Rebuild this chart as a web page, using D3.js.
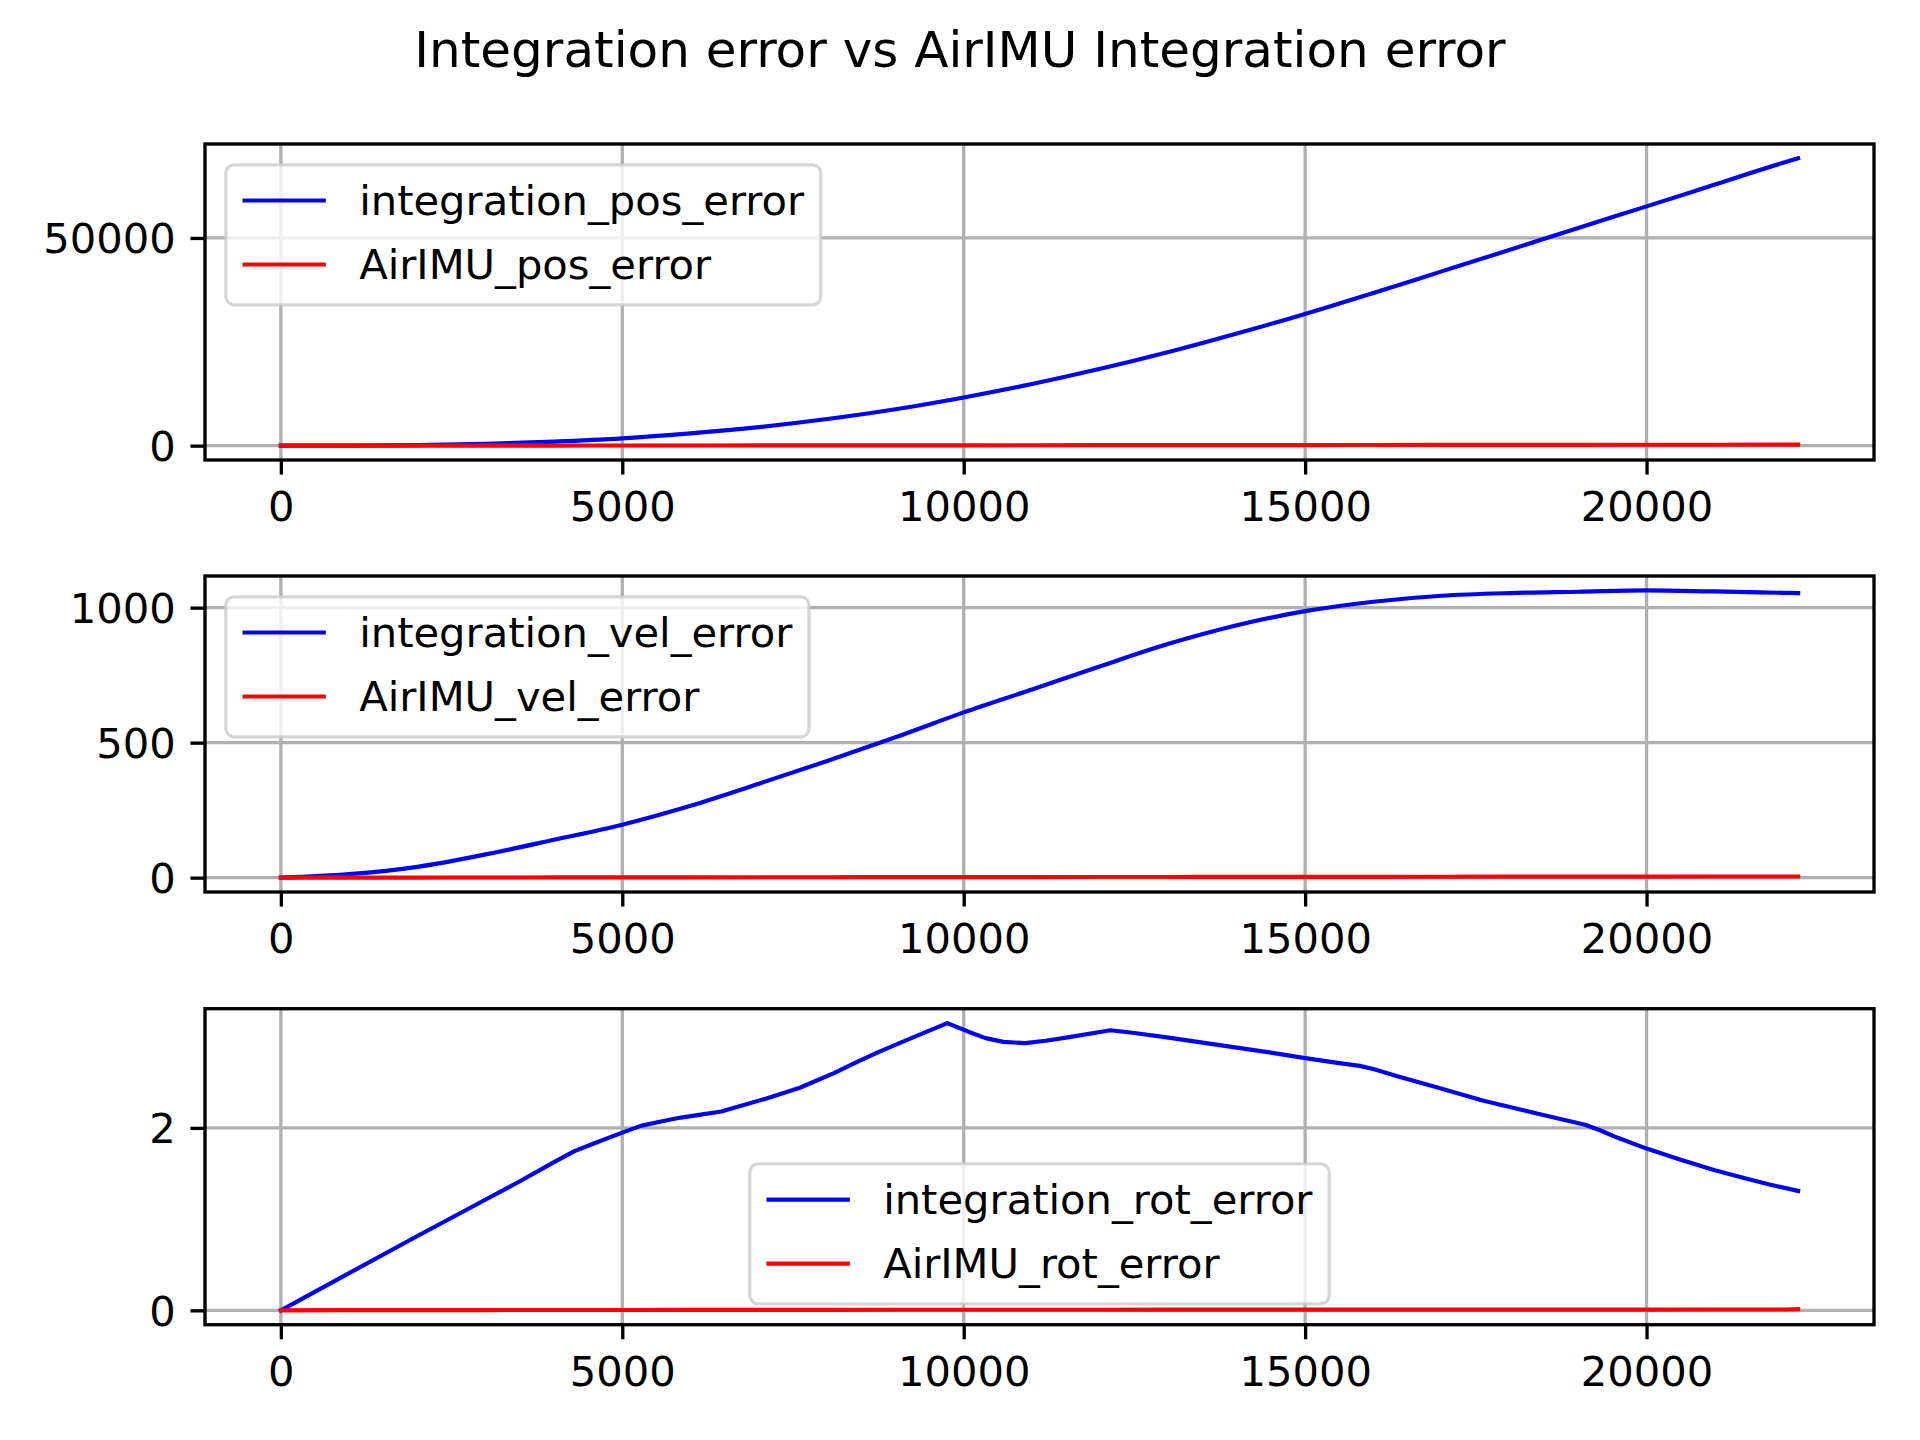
<!DOCTYPE html>
<html>
<head>
<meta charset="utf-8">
<script src="https://cdn.jsdelivr.net/npm/d3@7"></script>
<style>
  html, body { margin: 0; padding: 0; background: #fff; }
  svg { display: block; }
  text { font-family: "DejaVu Sans", sans-serif; }
</style>
</head>
<body>
<script>
// ---------------- DATA ----------------
const title = "Integration error vs AirIMU Integration error";

const stepX = [0, 1000, 2000, 3000, 4000, 5000, 6000, 7000, 8000, 9000, 10000, 11000,
  12000, 13000, 14000, 15000, 16000, 17000, 18000, 19000, 20000, 21000, 22000, 22220];

const integrationPos = [0, 20, 140, 440, 980, 1760, 2950, 4450, 6400, 8760, 11600, 14850,
  18500, 22550, 27000, 31700, 36750, 41950, 47150, 52400, 57600, 62850, 68100, 69160];
const airimuPos = [0, 2, 6, 12, 20, 30, 40, 50, 60, 70, 80, 92,
  104, 116, 128, 140, 152, 164, 176, 190, 205, 220, 235, 240];

const integrationVel = [0, 13, 40, 86, 140, 196, 266, 348, 432, 520, 612, 697,
  783, 866, 935, 987, 1022, 1044, 1054, 1059, 1064, 1060, 1055, 1054];
const airimuVel = [0, 0.1, 0.3, 0.5, 0.7, 0.9, 1.1, 1.3, 1.5, 1.7, 1.9, 2.1,
  2.3, 2.5, 2.7, 2.9, 3.1, 3.3, 3.5, 3.7, 3.9, 4.1, 4.3, 4.35];

const rotX = [0, 1000, 2000, 3000, 3500, 4000, 4300, 4620, 5000, 5270, 5600, 5860, 6150, 6450,
  7100, 7600, 8100, 8400, 8750, 9250, 9760, 10050, 10320, 10580, 10900, 11200, 11500, 12150,
  12500, 13000, 14000, 14500, 15000, 15500, 15800, 16000, 16350, 16900, 17600, 18300, 19100,
  19300, 19570, 20000, 20500, 21000, 21400, 21800, 22220];
const integrationRot = [0, 0.408, 0.815, 1.215, 1.415, 1.625, 1.745, 1.84, 1.948, 2.022, 2.075, 2.113, 2.145, 2.18,
  2.32, 2.44, 2.6, 2.71, 2.83, 2.99, 3.149, 3.06, 2.984, 2.943, 2.929, 2.955, 2.99, 3.07,
  3.04, 2.99, 2.88, 2.825, 2.765, 2.71, 2.68, 2.645, 2.565, 2.45, 2.3, 2.175, 2.035,
  1.98, 1.894, 1.773, 1.65, 1.535, 1.455, 1.38, 1.309];
const airimuRot = [0, 0.002, 0.003, 0.003, 0.004, 0.004, 0.005, 0.005, 0.005, 0.006, 0.006, 0.006,
  0.006, 0.007, 0.007, 0.007, 0.007, 0.008, 0.008, 0.008, 0.008, 0.009, 0.009, 0.012];

const xTicks = [0, 5000, 10000, 15000, 20000];
const posTicks = [0, 50000];
const velTicks = [0, 500, 1000];
const rotTicks = [0, 2];

const panels = [
  { ticks: posTicks, legendLoc: "upper left", smooth: true,
    series: [
      { name: "integration_pos_error", x: stepX, y: integrationPos, color: "#0000ff" },
      { name: "AirIMU_pos_error", x: stepX, y: airimuPos, color: "#ff0000" } ] },
  { ticks: velTicks, legendLoc: "upper left", smooth: true,
    series: [
      { name: "integration_vel_error", x: stepX, y: integrationVel, color: "#0000ff" },
      { name: "AirIMU_vel_error", x: stepX, y: airimuVel, color: "#ff0000" } ] },
  { ticks: rotTicks, legendLoc: "lower center", smooth: false,
    series: [
      { name: "integration_rot_error", x: rotX, y: integrationRot, color: "#0000ff" },
      { name: "AirIMU_rot_error", x: stepX, y: airimuRot, color: "#ff0000" } ] }
];

// ---------------- LAYOUT ----------------
const W = 1920, H = 1440;
const pt = 300 / 72;            // px per point
const fs = 10 * pt;             // tick / legend font size
const axLeft = 205, axRight = 1874;
const axTops = [144, 576, 1008.7];
const axH = 316;
const lw = 1.0 * pt;            // data line width
const thin = 0.8 * pt;          // spine / grid / tick width
const tickLen = 3.5 * pt, tickPad = 3.5 * pt;

const svg = d3.select("body").append("svg")
  .attr("width", W).attr("height", H)
  .attr("viewBox", `0 0 ${W} ${H}`);

svg.append("rect").attr("width", W).attr("height", H).attr("fill", "#fff");

svg.append("text")
  .attr("x", W / 2).attr("y", 66.5)
  .attr("text-anchor", "middle")
  .attr("font-size", 12 * pt)
  .attr("fill", "#000")
  .text(title);

const measure = svg.append("text").attr("font-size", fs).attr("visibility", "hidden");
function textWidth(s) { measure.text(s); return measure.node().getComputedTextLength(); }

panels.forEach((p, i) => {
  const top = axTops[i], bottom = top + axH;
  const allX = p.series.flatMap(s => s.x);
  const allY = p.series.flatMap(s => s.y);
  const [x0, x1] = d3.extent(allX);
  const [y0, y1] = d3.extent(allY);
  const mx = (x1 - x0) * 0.05, my = (y1 - y0) * 0.05;
  const x = d3.scaleLinear().domain([x0 - mx, x1 + mx]).range([axLeft, axRight]);
  const y = d3.scaleLinear().domain([y0 - my, y1 + my]).range([bottom, top]);

  const g = svg.append("g");
  const clipId = "clip" + i;
  g.append("clipPath").attr("id", clipId)
    .append("rect").attr("x", axLeft).attr("y", top)
    .attr("width", axRight - axLeft).attr("height", axH);

  // grid
  const grid = g.append("g").attr("stroke", "#b0b0b0").attr("stroke-width", thin);
  xTicks.forEach(t => grid.append("line")
    .attr("x1", x(t)).attr("x2", x(t)).attr("y1", top).attr("y2", bottom));
  p.ticks.forEach(t => grid.append("line")
    .attr("x1", axLeft).attr("x2", axRight).attr("y1", y(t)).attr("y2", y(t)));

  // lines
  const plot = g.append("g").attr("clip-path", `url(#${clipId})`);
  p.series.forEach(s => {
    const line = d3.line().x(d => x(d[0])).y(d => y(d[1]))
      .curve(p.smooth ? d3.curveMonotoneX : d3.curveLinear);
    plot.append("path")
      .attr("d", line(s.x.map((xv, k) => [xv, s.y[k]])))
      .attr("fill", "none").attr("stroke", s.color)
      .attr("stroke-width", lw).attr("stroke-linejoin", "round").attr("stroke-linecap", "square");
  });

  // axes
  const xAxis = d3.axisBottom(x).tickValues(xTicks).tickSize(tickLen).tickPadding(tickPad)
    .tickFormat(d3.format("d"));
  const gx = g.append("g").attr("transform", `translate(0,${bottom})`).call(xAxis);
  const yAxis = d3.axisLeft(y).tickValues(p.ticks).tickSize(tickLen).tickPadding(tickPad)
    .tickFormat(d3.format("d"));
  const gy = g.append("g").attr("transform", `translate(${axLeft},0)`).call(yAxis);
  [gx, gy].forEach(a => {
    a.select(".domain").remove();
    a.selectAll(".tick line").attr("stroke", "#000").attr("stroke-width", thin);
    a.selectAll(".tick text").attr("font-size", fs).attr("fill", "#000")
      .attr("font-family", "DejaVu Sans");
  });
  gx.selectAll(".tick text").attr("dy", "0.76em");
  gy.selectAll(".tick text").attr("dy", "0.36em");

  // spines
  g.append("rect").attr("x", axLeft).attr("y", top)
    .attr("width", axRight - axLeft).attr("height", axH)
    .attr("fill", "none").attr("stroke", "#000").attr("stroke-width", thin)
    .attr("stroke-linejoin", "miter");

  // legend
  const pad = 0.5 * fs, bpad = 0.4 * fs, hlen = 2 * fs, htp = 0.8 * fs;
  const maxW = d3.max(p.series, s => textWidth(s.name));
  const boxW = bpad + hlen + htp + maxW + bpad;
  const boxH = 140;
  let bx, by;
  if (p.legendLoc === "upper left") { bx = axLeft + pad; by = top + pad; }
  else { bx = (axLeft + axRight) / 2 - boxW / 2; by = bottom - pad - boxH; }
  const lg = g.append("g");
  lg.append("rect").attr("x", bx).attr("y", by).attr("width", boxW).attr("height", boxH)
    .attr("rx", 0.2 * fs).attr("ry", 0.2 * fs)
    .attr("fill", "rgba(255,255,255,0.8)")
    .attr("stroke", "rgba(204,204,204,0.8)").attr("stroke-width", thin);
  p.series.forEach((s, k) => {
    const hy = by + 35.7 + k * 64;
    lg.append("line").attr("x1", bx + bpad).attr("x2", bx + bpad + hlen)
      .attr("y1", hy).attr("y2", hy)
      .attr("stroke", s.color).attr("stroke-width", lw);
    lg.append("text").attr("x", bx + bpad + hlen + htp).attr("y", hy + 14)
      .attr("font-size", fs).attr("fill", "#000").text(s.name);
  });
});
measure.remove();
</script>
</body>
</html>
